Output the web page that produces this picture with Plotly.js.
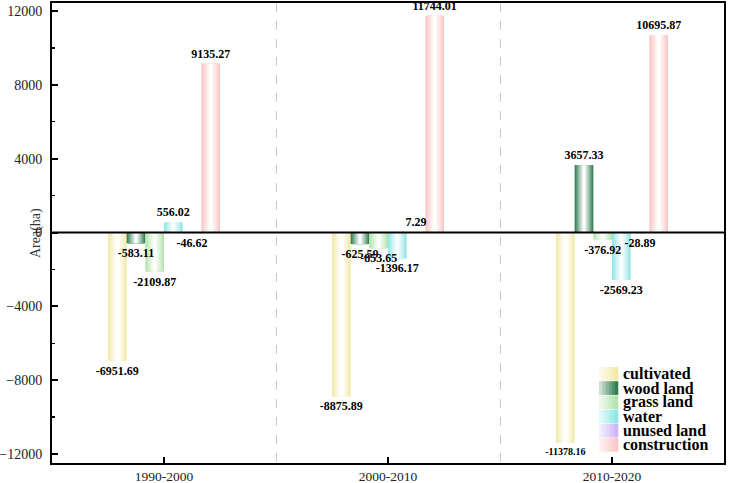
<!DOCTYPE html>
<html>
<head>
<meta charset="utf-8">
<script src="https://cdn.plot.ly/plotly-3.0.1.min.js"></script>
<style>html,body{margin:0;padding:0;background:#fff;}#chart{width:729px;height:483px;}</style>
</head>
<body>
<div id="chart"></div>
<script>
// ---- data ----
const categories = ['1990-2000', '2000-2010', '2010-2020'];
const seriesNames = ['cultivated', 'wood land', 'grass land', 'water', 'unused land', 'construction'];
const cultivated = [-6951.69, -8875.89, -11378.16];
const woodLand = [-583.11, -625.59, 3657.33];
const grassLand = [-2109.87, -853.65, -376.92];
const water = [556.02, -1396.17, -2569.23];
const unusedLand = [-46.62, 7.29, -28.89];
const construction = [9135.27, 11744.01, 10695.87];
const yTickVals = [-12000, -8000, -4000, 0, 4000, 8000, 12000];
const yTickText = ['\u221212000', '\u22128000', '\u22124000', '0', '4000', '8000', '12000'];

// ---- style ----
const seriesValues = [cultivated, woodLand, grassLand, water, unusedLand, construction];
const edgeColors = ['#f1e9aa', '#2f7d50', '#b4e4ac', '#8fe6e6', '#cdb6f6', '#fcc6c6'];
const serif = 'Liberation Serif';
const xPos = categories.map((c, i) => i);
const groupWidth = 0.5;
const barW = groupWidth / seriesNames.length;
const nLayers = 9;

function hexToRgb(h) {
  return [parseInt(h.slice(1, 3), 16), parseInt(h.slice(3, 5), 16), parseInt(h.slice(5, 7), 16)];
}
function mix(h, t) {
  const c = hexToRgb(h);
  return 'rgb(' + c.map(v => Math.round(v + (255 - v) * t)).join(',') + ')';
}

const traces = [];
// shaded bars: stacked layers of narrowing, lightening bars give the cylinder look
seriesNames.forEach((name, i) => {
  const center = -groupWidth / 2 + (i + 0.5) * barW;
  for (let k = 0; k < nLayers; k++) {
    const w = barW * (1 - k / nLayers);
    const t = Math.pow(k / (nLayers - 1), 0.9);
    traces.push({
      type: 'bar',
      x: xPos,
      y: seriesValues[i],
      width: w,
      offset: center - w / 2,
      name: name,
      legendgroup: name,
      showlegend: false,
      marker: { color: k === 0 ? edgeColors[i] : mix(edgeColors[i], t), line: { width: 0 } },
      hoverinfo: 'skip'
    });
  }
});
// value labels drawn last so they sit on top of neighbouring bars
seriesNames.forEach((name, i) => {
  const center = -groupWidth / 2 + (i + 0.5) * barW;
  traces.push({
    type: 'bar',
    x: xPos,
    y: seriesValues[i],
    width: barW,
    offset: center - barW / 2,
    name: name,
    showlegend: false,
    marker: { color: 'rgba(0,0,0,0)', line: { width: 0 } },
    text: seriesValues[i].map(v => v.toFixed(2)),
    textposition: 'outside',
    textangle: 0,
    constraintext: 'none',
    cliponaxis: false,
    textfont: {
      family: serif,
      size: seriesValues[i].map(v => (Math.abs(v) > 11000 && v < 0 ? 10 : 12)),
      color: '#000', weight: 'bold'
    },
    hoverinfo: 'skip'
  });
});

// ---- legend drawn as swatches + text (compact spacing like the reference) ----
const plotL = 52, plotR = 724, plotT = 3, plotB = 463;
const px2x = p => (p - plotL) / (plotR - plotL);
const px2y = p => (plotB - p) / (plotB - plotT);
const shapes = [{
  type: 'line', xref: 'paper', yref: 'y', x0: 0, x1: 1, y0: 0, y1: 0,
  line: { color: '#000', width: 2 }, layer: 'above'
}];
const annotations = [{
  text: 'Area(ha)', xref: 'paper', yref: 'paper', x: px2x(36), y: 0.5,
  xanchor: 'center', yanchor: 'middle', textangle: -90, showarrow: false,
  font: { family: serif, size: 14, color: '#333' }
}];
const legTop = 367, legRow = 14.2, swL = 599, swR = 618, nStripes = 6;
seriesNames.forEach((name, i) => {
  const y0 = legTop + i * legRow, y1 = y0 + legRow - 0.5;
  const sw = (swR - swL) / nStripes;
  for (let s = 0; s < nStripes; s++) {
    const t = 0.75 * (1 - s / (nStripes - 1));
    shapes.push({
      type: 'rect', xref: 'paper', yref: 'paper',
      x0: px2x(swL + s * sw), x1: px2x(swL + (s + 1) * sw + 0.3),
      y0: px2y(y1), y1: px2y(y0),
      fillcolor: mix(edgeColors[i], t), line: { width: 0 }, layer: 'above'
    });
  }
  annotations.push({
    text: name, xref: 'paper', yref: 'paper', x: px2x(622), y: px2y((y0 + y1) / 2),
    xanchor: 'left', yanchor: 'middle', showarrow: false, borderpad: 0,
    font: { family: serif, size: 16, color: '#000', weight: 'bold' }
  });
});

const layout = {
  width: 729,
  height: 483,
  margin: { l: plotL, r: 729 - plotR, t: plotT, b: 483 - plotB },
  paper_bgcolor: '#fff',
  plot_bgcolor: '#fff',
  barmode: 'overlay',
  showlegend: false,
  xaxis: {
    range: [-0.5, 2.5],
    tickmode: 'array',
    tickvals: xPos,
    ticktext: categories,
    ticks: 'inside',
    ticklen: 6,
    tickwidth: 2,
    tickcolor: '#000',
    showgrid: false,
    zeroline: false,
    showline: true,
    mirror: true,
    linecolor: '#000',
    linewidth: 2,
    tickfont: { family: serif, size: 13.5, color: '#222' },
    minor: {
      tickmode: 'array',
      tickvals: [0.5, 1.5],
      ticks: '',
      showgrid: true,
      gridcolor: '#c8c8c8',
      griddash: 'dash',
      gridwidth: 1
    }
  },
  yaxis: {
    range: [-12480, 12430],
    tickmode: 'array',
    tickvals: yTickVals,
    ticktext: yTickText,
    ticks: 'inside',
    ticklen: 6,
    tickwidth: 2,
    tickcolor: '#000',
    showgrid: false,
    zeroline: false,
    showline: true,
    mirror: true,
    linecolor: '#000',
    linewidth: 2,
    ticklabelstandoff: 5,
    tickfont: { family: serif, size: 14, color: '#222' },
    minor: {
      tickmode: 'linear',
      tick0: 0,
      dtick: 2000,
      ticks: 'inside',
      ticklen: 3,
      tickwidth: 1.5,
      tickcolor: '#000',
      showgrid: false
    }
  },
  shapes: shapes,
  annotations: annotations
};

Plotly.newPlot('chart', traces, layout, { displayModeBar: false, staticPlot: true });
</script>
</body>
</html>
